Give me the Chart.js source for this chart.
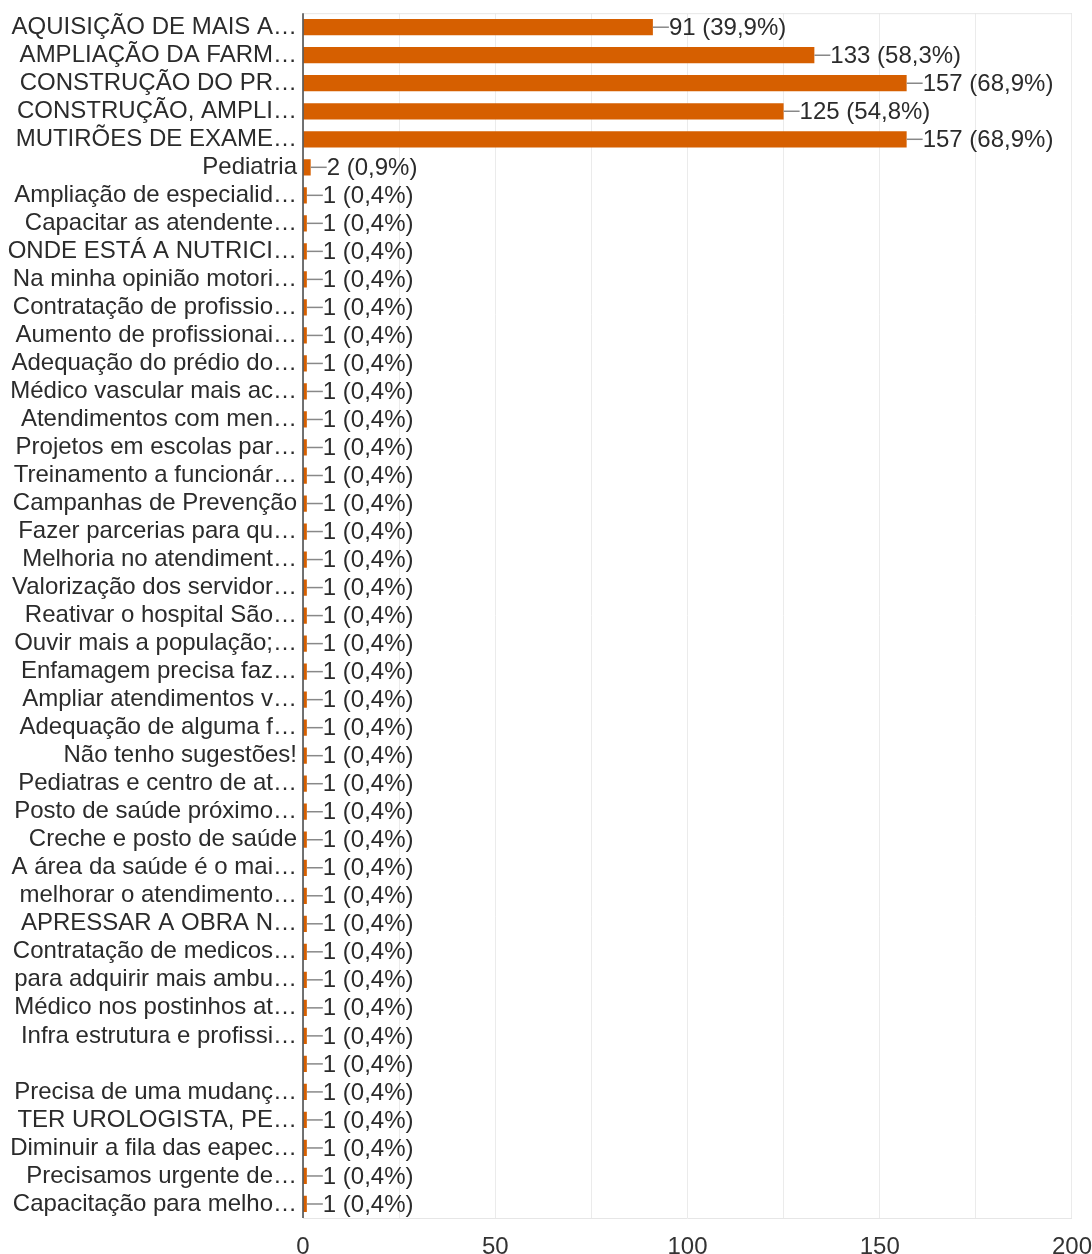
<!DOCTYPE html>
<html>
<head>
<meta charset="utf-8">
<script src="https://cdn.jsdelivr.net/npm/chart.js@4/dist/chart.umd.min.js"></script>
<style>
  html, body { margin: 0; padding: 0; background: #fff; }
  #wrap { width: 1092px; height: 1254px; position: relative; }
</style>
</head>
<body>
<div id="wrap"><canvas id="answers_chart"></canvas></div>
<script>
"use strict";

var categories = [
  "AQUISIÇÃO DE MAIS A…",
  "AMPLIAÇÃO DA FARM…",
  "CONSTRUÇÃO DO PR…",
  "CONSTRUÇÃO, AMPLI…",
  "MUTIRÕES DE EXAME…",
  "Pediatria",
  "Ampliação de especialid…",
  "Capacitar as atendente…",
  "ONDE ESTÁ A NUTRICI…",
  "Na minha opinião motori…",
  "Contratação de profissio…",
  "Aumento de profissionai…",
  "Adequação do prédio do…",
  "Médico vascular mais ac…",
  "Atendimentos com men…",
  "Projetos em escolas par…",
  "Treinamento a funcionár…",
  "Campanhas de Prevenção",
  "Fazer parcerias para qu…",
  "Melhoria no atendiment…",
  "Valorização dos servidor…",
  "Reativar o hospital São…",
  "Ouvir mais a população;…",
  "Enfamagem precisa faz…",
  "Ampliar atendimentos v…",
  "Adequação de alguma f…",
  "Não tenho sugestões!",
  "Pediatras e centro de at…",
  "Posto de saúde próximo…",
  "Creche e posto de saúde",
  "A área da saúde é o mai…",
  "melhorar o atendimento…",
  "APRESSAR A OBRA N…",
  "Contratação de medicos…",
  "para adquirir mais ambu…",
  "Médico nos postinhos at…",
  "Infra estrutura e profissi…",
  "",
  "Precisa de uma mudanç…",
  "TER UROLOGISTA, PE…",
  "Diminuir a fila das eapec…",
  "Precisamos urgente de…",
  "Capacitação para melho…"
];

var counts = [
  91, 133, 157, 125, 157, 2,
  1, 1, 1, 1, 1, 1, 1, 1, 1, 1, 1, 1, 1, 1, 1, 1, 1, 1, 1, 1, 1, 1,
  1, 1, 1, 1, 1, 1, 1, 1, 1, 1, 1, 1, 1, 1, 1
];

var respondents = 228;
var xTicks = [0, 50, 100, 150, 200];

var barColor = "#d65f00";
var textFont = "'Liberation Sans', Arial, sans-serif";

function pctText(v) {
  return v + " (" + (Math.round(v / respondents * 1000) / 10).toFixed(1).replace(".", ",") + "%)";
}

/* leader line + value label at bar end */
var valueLabelPlugin = {
  id: "valueLabels",
  afterDatasetsDraw: function (chart) {
    var ctx = chart.ctx;
    var meta = chart.getDatasetMeta(0);
    ctx.save();
    ctx.font = "24px " + textFont;
    ctx.textBaseline = "middle";
    ctx.textAlign = "left";
    meta.data.forEach(function (bar, i) {
      var x = bar.x;
      var y = bar.y;
      ctx.strokeStyle = "#888";
      ctx.lineWidth = 1.5;
      ctx.beginPath();
      ctx.moveTo(x, y);
      ctx.lineTo(x + 16, y);
      ctx.stroke();
      ctx.fillStyle = "#2b2b2b";
      ctx.fillText(pctText(counts[i]), x + 16, y + 1);
    });
    ctx.restore();
  }
};

/* light frame on top + dark left axis */
var framePlugin = {
  id: "frame",
  beforeDatasetsDraw: function (chart) {
    var a = chart.chartArea;
    var ctx = chart.ctx;
    ctx.save();
    ctx.strokeStyle = "#e6e6e6";
    ctx.lineWidth = 1;
    ctx.beginPath();
    ctx.moveTo(a.left, a.top + 0.5);
    ctx.lineTo(a.right, a.top + 0.5);
    ctx.stroke();
    ctx.restore();
  },
  afterDatasetsDraw: function (chart) {
    var a = chart.chartArea;
    var ctx = chart.ctx;
    ctx.save();
    ctx.strokeStyle = "#444";
    ctx.lineWidth = 1.5;
    ctx.beginPath();
    ctx.moveTo(a.left, a.top);
    ctx.lineTo(a.left, a.bottom);
    ctx.stroke();
    ctx.restore();
  }
};

new Chart("answers_chart", {
  type: "bar",
  data: {
    labels: categories,
    datasets: [
      {
        data: counts,
        backgroundColor: barColor,
        borderWidth: 0,
        barPercentage: 0.58,
        categoryPercentage: 1.0
      }
    ]
  },
  options: {
    indexAxis: "y",
    responsive: true,
    maintainAspectRatio: false,
    animation: false,
    layout: {
      padding: 0
    },
    plugins: {
      legend: { display: false },
      tooltip: { enabled: false }
    },
    scales: {
      x: {
        min: 0,
        max: 200,
        afterBuildTicks: function (scale) {
          var t = [];
          for (var v = 0; v <= 200; v += 25) t.push({ value: v });
          scale.ticks = t;
        },
        ticks: {
          autoSkip: false,
          maxRotation: 0,
          padding: 0,
          color: "#333",
          font: { family: textFont, size: 24 },
          callback: function (value) {
            return xTicks.indexOf(value) >= 0 ? value : "";
          }
        },
        grid: {
          color: "#ebebeb",
          drawTicks: true,
          tickLength: 15,
          tickColor: "rgba(0,0,0,0)"
        },
        border: { display: true, color: "#e6e6e6" },
        afterFit: function (scale) {
          scale.height = 36;
        }
      },
      y: {
        ticks: {
          autoSkip: false,
          padding: 0,
          color: "#2b2b2b",
          font: { family: textFont, size: 24, lineHeight: 1.1 }
        },
        grid: {
          display: true,
          drawOnChartArea: false,
          drawTicks: true,
          tickLength: 6,
          tickColor: "rgba(0,0,0,0)"
        },
        border: { display: false },
        afterFit: function (scale) {
          scale.width = 303;
        }
      }
    }
  },
  plugins: [framePlugin, valueLabelPlugin]
});
</script>
</body>
</html>
